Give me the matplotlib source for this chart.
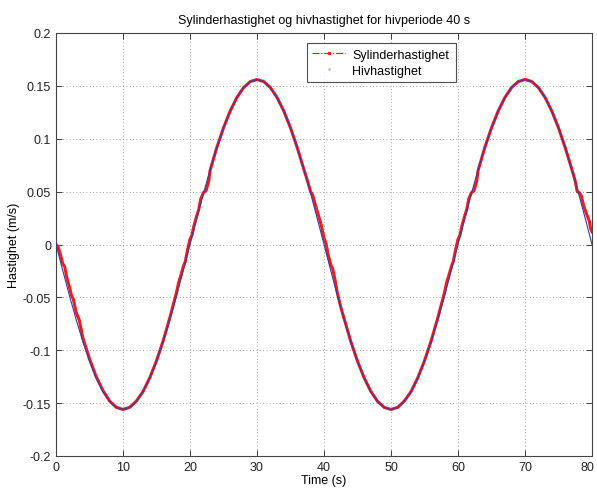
import matplotlib
matplotlib.use("Agg")
import matplotlib.pyplot as plt
import matplotlib.transforms as mtransforms
from matplotlib.lines import Line2D

plt.rcParams['font.family'] = ['Liberation Sans', 'DejaVu Sans']

# Heave velocity (m/s), sampled every second over 0..80 s
heave_t = list(range(0, 81))
heave_v = [
    0.0, -0.0244, -0.0482, -0.0708, -0.0917, -0.1103, -0.1262, -0.1390, -0.1484, -0.1541,
    -0.156, -0.1541, -0.1484, -0.1390, -0.1262, -0.1103, -0.0917, -0.0708, -0.0482, -0.0244,
    0.0, 0.0244, 0.0482, 0.0708, 0.0917, 0.1103, 0.1262, 0.1390, 0.1484, 0.1541,
    0.156, 0.1541, 0.1484, 0.1390, 0.1262, 0.1103, 0.0917, 0.0708, 0.0482, 0.0244,
    0.0, -0.0244, -0.0482, -0.0708, -0.0917, -0.1103, -0.1262, -0.1390, -0.1484, -0.1541,
    -0.156, -0.1541, -0.1484, -0.1390, -0.1262, -0.1103, -0.0917, -0.0708, -0.0482, -0.0244,
    0.0, 0.0244, 0.0482, 0.0708, 0.0917, 0.1103, 0.1262, 0.1390, 0.1484, 0.1541,
    0.156, 0.1541, 0.1484, 0.1390, 0.1262, 0.1103, 0.0917, 0.0708, 0.0482, 0.0244,
    0.0,
]

# Cylinder velocity (m/s), denser sampling around the zero crossings
cyl_t = [
    0, 0.3, 0.6, 1.0, 1.3, 1.6, 2.0, 2.3, 2.6, 3.0, 3.5, 4, 5, 6, 7, 8, 9, 10,
    11, 12, 13, 14, 15, 16, 17, 17.5, 18, 18.3, 18.6, 19, 19.3, 19.6, 20, 20.3,
    20.6, 21, 21.3, 21.6, 22, 22.4, 22.8, 23, 24, 25, 26, 27, 28, 29, 30,
    31, 32, 33, 34, 35, 36, 37, 37.5, 38, 38.3, 38.6, 39, 39.3, 39.6, 40, 40.3,
    40.6, 41, 41.3, 41.6, 42, 42.5, 43, 44, 45, 46, 47, 48, 49, 50,
    51, 52, 53, 54, 55, 56, 57, 57.5, 58, 58.3, 58.6, 59, 59.3, 59.6, 60, 60.3,
    60.6, 61, 61.3, 61.6, 62, 62.4, 62.8, 63, 64, 65, 66, 67, 68, 69, 70,
    71, 72, 73, 74, 75, 76, 77, 77.5, 77.8, 78.1, 78.4, 78.7, 79.0, 79.3, 79.6, 79.8, 80,
]
cyl_v = [
    0.0, -0.002, -0.008, -0.018, -0.021, -0.031, -0.040, -0.048, -0.052, -0.064, -0.072, -0.088, -0.108, -0.125, -0.138, -0.148, -0.154, -0.156,
    -0.154, -0.148, -0.139, -0.126, -0.110, -0.091, -0.069, -0.057, -0.045, -0.036, -0.030, -0.021, -0.016, -0.006, 0.005, 0.009,
    0.018, 0.027, 0.033, 0.043, 0.049, 0.051, 0.060, 0.070, 0.0917, 0.1103, 0.1262, 0.1390, 0.1484, 0.1541, 0.156,
    0.1541, 0.1484, 0.1390, 0.1262, 0.1103, 0.0917, 0.071, 0.061, 0.050, 0.047, 0.040, 0.031, 0.025, 0.018, 0.006, 0.001,
    -0.009, -0.019, -0.023, -0.032, -0.046, -0.059, -0.070, -0.0917, -0.1103, -0.1262, -0.1390, -0.1484, -0.1541, -0.156,
    -0.154, -0.148, -0.139, -0.126, -0.110, -0.091, -0.069, -0.057, -0.045, -0.036, -0.030, -0.021, -0.016, -0.006, 0.005, 0.009,
    0.018, 0.027, 0.033, 0.043, 0.049, 0.051, 0.060, 0.070, 0.0917, 0.1103, 0.1262, 0.1390, 0.1484, 0.1541, 0.156,
    0.1541, 0.1484, 0.1390, 0.1262, 0.1103, 0.0917, 0.071, 0.060, 0.050, 0.049, 0.046, 0.038, 0.032, 0.027, 0.022, 0.015, 0.012,
]

title = "Sylinderhastighet og hivhastighet for hivperiode 40 s"
xlabel = "Time (s)"
ylabel = "Hastighet (m/s)"
legend_labels = ["Sylinderhastighet", "Hivhastighet"]
xticks = list(range(0, 81, 10))
yticks = [-0.2, -0.15, -0.1, -0.05, 0, 0.05, 0.1, 0.15, 0.2]
ytick_labels = ["-0.2", "-0.15", "-0.1", "-0.05", "0", "0.05", "0.1", "0.15", "0.2"]

FS = 9

fig = plt.figure(figsize=(5.97, 4.89), dpi=100)
ax = fig.add_axes([56 / 597, 32 / 489, 536 / 597, 423 / 489])

ax.plot(cyl_t, cyl_v, color="#ee1c1c", lw=2.2, solid_joinstyle="round", zorder=2)
ax.plot(heave_t, heave_v, color="#3a3aa8", lw=0.8, zorder=3)

ax.set_xlim(0, 80)
ax.set_ylim(-0.2, 0.2)
ax.set_xticks(xticks)
ax.set_yticks(yticks)
ax.set_yticklabels(ytick_labels)
ax.grid(True, linestyle=(0, (1, 3)), color="#8a8a8a", lw=0.6)
ax.tick_params(direction="in", top=True, right=True, length=4, width=0.6,
               labelsize=FS, colors="#222222")
for s in ax.spines.values():
    s.set_color("#444444")
    s.set_linewidth(0.8)

# keep the last x tick label inside the figure edge
last = ax.get_xticklabels()[-1]
last.set_transform(last.get_transform() +
                   mtransforms.ScaledTranslation(-3 / 72, 0, fig.dpi_scale_trans))

ax.set_title(title, fontsize=FS, pad=7)
ax.set_xlabel(xlabel, fontsize=FS, labelpad=1)
ax.set_ylabel(ylabel, fontsize=FS, labelpad=2)

handles = [
    Line2D([], [], color="#ee1c1c", lw=0.8, linestyle="-.", marker=".", markersize=3),
    Line2D([], [], color="#b8c0e0", lw=0, marker=".", markersize=2),
]
leg = ax.legend(handles, legend_labels, loc="upper left",
                bbox_to_anchor=(0.468, 0.70, 0.278, 0.276), mode="expand",
                fontsize=FS, frameon=True, fancybox=False, borderpad=0.45,
                handlelength=2.6, handletextpad=0.6, labelspacing=0.3,
                borderaxespad=0.0)
leg.get_frame().set_edgecolor("#222222")
leg.get_frame().set_linewidth(0.8)

fig.savefig("out.png", dpi=100)
